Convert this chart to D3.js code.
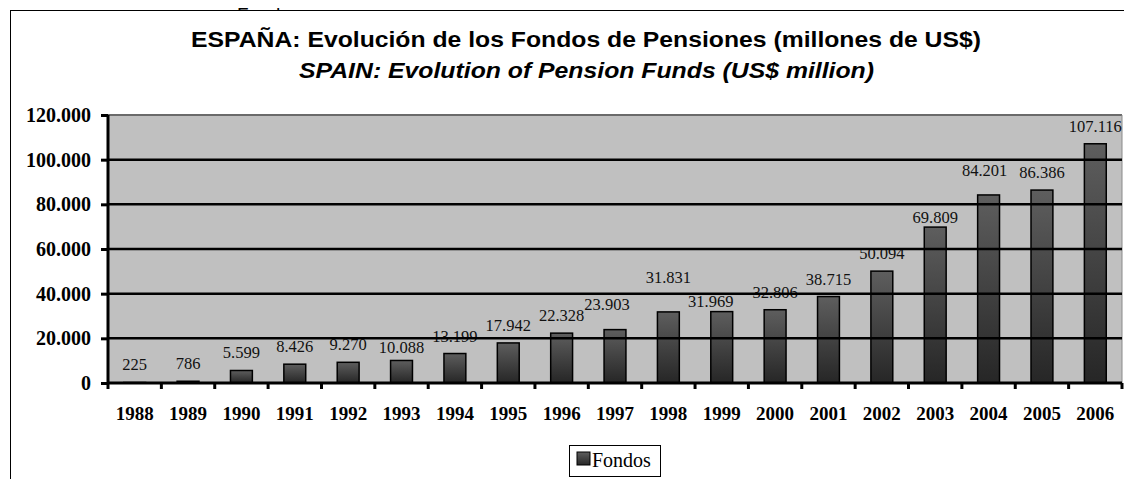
<!DOCTYPE html>
<html>
<head>
<meta charset="utf-8">
<script src="https://cdn.jsdelivr.net/npm/d3@7"></script>
<style>
  html, body { margin: 0; padding: 0; background: #fff; }
  svg { display: block; }
</style>
</head>
<body>
<svg id="chart" width="1124" height="479"></svg>
<script>
// Pension fund assets, Spain (US$ million)
const years = ["1988","1989","1990","1991","1992","1993","1994","1995","1996","1997",
               "1998","1999","2000","2001","2002","2003","2004","2005","2006"];
const fondos = [225, 786, 5599, 8426, 9270, 10088, 13199, 17942, 22328, 23903,
                31831, 31969, 32806, 38715, 50094, 69809, 84201, 86386, 107116];
const yTicks = [0, 20000, 40000, 60000, 80000, 100000, 120000];
const seriesName = "Fondos";
const titleEs = "ESPAÑA: Evolución de los Fondos de Pensiones (millones de US$)";
const titleEn = "SPAIN: Evolution of Pension Funds (US$ million)";

(function draw() {
  const svg = d3.select("#chart");
  const fmt = v => d3.format(",")(v).replace(/,/g, ".");
  const serif = "Liberation Serif, Times New Roman, serif";
  const sans = "Liberation Sans, Arial, sans-serif";

  // hand-placed value labels: [dx, extra lift]
  const labelNudge = { "1993": [0, -5], "1997": [-8, 8], "1998": [0, 17], "1999": [-11, -7],
                       "2003": [0, -8], "2004": [-4, 7] };

  const defs = svg.append("defs");
  const grad = defs.append("linearGradient").attr("id", "barFill")
    .attr("x1", 0).attr("y1", 0).attr("x2", 0).attr("y2", 1);
  grad.append("stop").attr("offset", "0%").attr("stop-color", "#5e5e5e");
  grad.append("stop").attr("offset", "100%").attr("stop-color", "#262626");

  // series name peeking above the frame
  svg.append("text").attr("x", 237).attr("y", 21)
    .attr("font-family", sans).attr("font-size", 19)
    .text(seriesName);

  // chart frame
  svg.append("rect").attr("x", 10.5).attr("y", 10.5).attr("width", 1124).attr("height", 480)
    .attr("fill", "#fff").attr("stroke", "#000").attr("stroke-width", 1);

  // titles (condensed-wide headline, stretched to width)
  svg.append("text").attr("x", 586).attr("y", 47).attr("text-anchor", "middle")
    .attr("font-family", sans).attr("font-weight", "bold")
    .attr("font-size", 21.5).attr("textLength", 790).attr("lengthAdjust", "spacingAndGlyphs")
    .text(titleEs);
  svg.append("text").attr("x", 586.5).attr("y", 78).attr("text-anchor", "middle")
    .attr("font-family", sans).attr("font-weight", "bold").attr("font-style", "italic")
    .attr("font-size", 21.5).attr("textLength", 575).attr("lengthAdjust", "spacingAndGlyphs")
    .text(titleEn);

  const pL = 108, pR = 1122, pT = 115, pB = 383;
  const x = d3.scaleBand().domain(years).range([pL, pR]).padding(0);
  const y = d3.scaleLinear().domain([0, 120000]).range([pB, pT]);
  const barW = x.bandwidth() * 0.41;

  // plot background
  svg.append("rect").attr("x", pL).attr("y", pT).attr("width", pR - pL)
    .attr("height", pB - pT).attr("fill", "#c0c0c0");
  svg.append("line").attr("x1", pL).attr("x2", pR).attr("y1", pT).attr("y2", pT)
    .attr("stroke", "#6a6a6a").attr("stroke-width", 2);
  svg.append("line").attr("x1", pR).attr("x2", pR).attr("y1", pT).attr("y2", pB)
    .attr("stroke", "#8a8a8a").attr("stroke-width", 1);

  // bars
  svg.append("g").selectAll("rect").data(years).join("rect")
    .attr("x", d => x(d) + (x.bandwidth() - barW) / 2)
    .attr("y", (d, i) => y(fondos[i]))
    .attr("width", barW)
    .attr("height", (d, i) => y(0) - y(fondos[i]))
    .attr("fill", "url(#barFill)").attr("stroke", "#000").attr("stroke-width", 1.5);

  // value labels
  svg.append("g").selectAll("text").data(years).join("text")
    .attr("x", d => x(d) + x.bandwidth() / 2 + (labelNudge[d] ? labelNudge[d][0] : 0))
    .attr("y", (d, i) => y(fondos[i]) - 12 - (labelNudge[d] ? labelNudge[d][1] : 0))
    .attr("text-anchor", "middle")
    .attr("font-family", serif).attr("font-size", 16.5)
    .attr("fill", "#111")
    .text((d, i) => fmt(fondos[i]));

  // gridlines drawn over the bars
  svg.append("g").selectAll("line").data(yTicks.filter(t => t > 0 && t < 120000)).join("line")
    .attr("x1", pL).attr("x2", pR).attr("y1", d => y(d)).attr("y2", d => y(d))
    .attr("stroke", "#000").attr("stroke-width", 2.5);

  // y axis
  const yAxis = d3.axisLeft(y).tickValues(yTicks).tickSize(7).tickPadding(10).tickFormat(fmt);
  const gy = svg.append("g").attr("transform", `translate(${pL},0)`).call(yAxis);
  gy.select(".domain").attr("stroke-width", 3).attr("d", `M0,${pT}V${pB + 6}`);
  gy.selectAll(".tick line").attr("stroke-width", 3);
  gy.selectAll(".tick text").attr("font-family", serif)
    .attr("font-weight", "bold").attr("font-size", 20).attr("fill", "#000");

  // x axis
  const xAxis = d3.axisBottom(x).tickSize(0).tickPadding(24);
  const gx = svg.append("g").attr("transform", `translate(0,${pB})`).call(xAxis);
  gx.select(".domain").attr("stroke-width", 3).attr("d", `M${pL - 1},0H${pR}`);
  gx.selectAll(".tick text").attr("font-family", serif)
    .attr("font-weight", "bold").attr("font-size", 19).attr("fill", "#000");
  gx.append("g").selectAll("line").data(years.slice(1).concat([null])).join("line")
    .attr("x1", d => d ? x(d) : pR).attr("x2", d => d ? x(d) : pR)
    .attr("y1", 0).attr("y2", 6).attr("stroke", "#000").attr("stroke-width", 3);

  // legend
  const lg = svg.append("g");
  lg.append("rect").attr("x", 569.5).attr("y", 445.5).attr("width", 91).attr("height", 31)
    .attr("fill", "#fff").attr("stroke", "#000").attr("stroke-width", 1);
  lg.append("rect").attr("x", 577).attr("y", 452).attr("width", 13).attr("height", 13)
    .attr("fill", "url(#barFill)").attr("stroke", "#000").attr("stroke-width", 1);
  lg.append("text").attr("x", 592).attr("y", 467)
    .attr("font-family", serif).attr("font-size", 20)
    .text(seriesName);
})();
</script>
</body>
</html>
